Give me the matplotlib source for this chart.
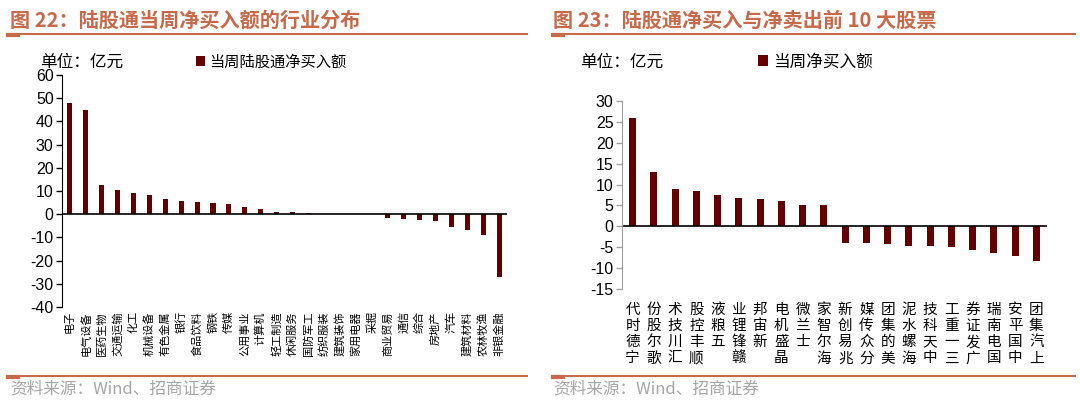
import matplotlib
matplotlib.use("Agg")
import matplotlib.pyplot as plt
from matplotlib.lines import Line2D

plt.rcParams['font.family'] = ['Noto Sans CJK SC', 'DejaVu Sans']

# 图22 数据：陆股通当周净买入额（亿元）
hangye = ['电子', '电气设备', '医药生物', '交通运输', '化工', '机械设备', '有色金属',
          '银行', '食品饮料', '钢铁', '传媒', '公用事业', '计算机', '轻工制造',
          '休闲服务', '国防军工', '纺织服装', '建筑装饰', '家用电器', '采掘',
          '商业贸易', '通信', '综合', '房地产', '汽车', '建筑材料', '农林牧渔', '非银金融']
hangye_jine = [48.1, 44.8, 12.5, 10.6, 9.3, 8.2, 6.5, 5.9, 5.3, 4.9, 4.2, 2.9, 2.4, 1.1,
               1.0, 0.5, 0.3, 0.1, 0.05, -0.05, -1.7, -2.2, -2.5, -2.8, -5.4, -6.8, -9.1, -27.0]

# 图23 数据：前10大净买入与净卖出股票
gupiao = ['宁德时代', '歌尔股份', '汇川技术', '顺丰控股', '五粮液', '赣锋锂业', '新宙邦',
          '晶盛机电', '士兰微', '海尔智家', '兆易创新', '分众传媒', '美的集团', '海螺水泥',
          '中天科技', '三一重工', '广发证券', '国电南瑞', '中国平安', '上汽集团']
gupiao_jine = [26.0, 13.0, 8.9, 8.5, 7.5, 6.7, 6.45, 6.05, 5.1, 5.0,
               -4.0, -4.05, -4.2, -4.6, -4.7, -5.0, -5.7, -6.3, -7.0, -8.4]

bar_color = '#640000'
title_color = '#C8694A'
W, H = 1080, 407

fig = plt.figure(figsize=(10.8, 4.07), dpi=100)

def px(x0, y0, x1, y1):
    # 像素坐标 -> figure 坐标 [left, bottom, width, height]
    return [x0 / W, 1 - y1 / H, (x1 - x0) / W, (y1 - y0) / H]

def hline(x0, x1, y, lw=1.5):
    fig.add_artist(Line2D([x0 / W, x1 / W], [1 - y / H, 1 - y / H],
                          transform=fig.transFigure, color=title_color, lw=lw))

# 标题和分隔线
fig.text(10 / W, 1 - 20 / H, '图 22：陆股通当周净买入额的行业分布', fontsize=14.5,
         fontweight='bold', color=title_color, va='center', ha='left')
fig.text(553 / W, 1 - 20 / H, '图 23：陆股通净买入与净卖出前 10 大股票', fontsize=14.5,
         fontweight='bold', color=title_color, va='center', ha='left')
for x0, x1 in [(8, 527), (553, 1075)]:
    hline(x0, x1, 34, lw=1.5)
    hline(x0, x0 + 10, 35, lw=3)
    hline(x0, x1, 376, lw=1.5)
    hline(x0, x0 + 10, 377, lw=3)
fig.text(10 / W, 1 - 389 / H, '资料来源：Wind、招商证券', fontsize=12,
         color='#A6A6A6', va='center', ha='left')
fig.text(553 / W, 1 - 389 / H, '资料来源：Wind、招商证券', fontsize=12,
         color='#A6A6A6', va='center', ha='left')

# 左图
ax1 = fig.add_axes(px(62, 75, 507, 307))
ax1.bar(range(len(hangye)), hangye_jine, width=0.32, color=bar_color, label='当周陆股通净买入额')
ax1.set_xlim(-0.5, len(hangye) - 0.5)
ax1.set_ylim(-40, 60)
ax1.set_yticks(range(-40, 61, 10))
ax1.set_yticklabels([str(v) for v in range(-40, 61, 10)], family=['Liberation Sans'], fontsize=11.5)
ax1.set_xticks(range(len(hangye)))
ax1.set_xticklabels(hangye, rotation=90, fontsize=8)
ax1.tick_params(axis='x', length=0, pad=3)
ax1.tick_params(axis='y', length=4, width=1, direction='out', pad=2)
ax1.axhline(0, color='black', lw=1.2)
for s in ['top', 'right', 'bottom']:
    ax1.spines[s].set_visible(False)
ax1.spines['left'].set_color('black')
ax1.legend(loc='center left', bbox_to_anchor=(0.3, 1.056), frameon=False, fontsize=11,
           handlelength=0.6, handleheight=0.6, handletextpad=0.3, borderpad=0, borderaxespad=0)
fig.text(40 / W, 1 - 62 / H, '单位：亿元', fontsize=12, va='center', ha='left')

# 右图
ax2 = fig.add_axes(px(622, 101, 1047, 289))
ax2.bar(range(len(gupiao)), gupiao_jine, width=0.33, color=bar_color, label='当周净买入额')
ax2.set_xlim(-0.5, len(gupiao) - 0.5)
ax2.set_ylim(-15, 30)
ax2.set_yticks(range(-15, 31, 5))
ax2.set_yticklabels([str(v) for v in range(-15, 31, 5)], family=['Liberation Sans'], fontsize=11.5)
ax2.set_xticks(range(len(gupiao)))
ax2.set_xticklabels(['\n'.join(reversed(g)) for g in gupiao], fontsize=10.5, linespacing=1.2)
ax2.tick_params(axis='x', length=0, pad=10)
ax2.tick_params(axis='y', length=4, width=1, direction='out', pad=2, color='#A0A0A0')
ax2.axhline(0, color='black', lw=1.2)
for s in ['top', 'right', 'bottom']:
    ax2.spines[s].set_visible(False)
ax2.spines['left'].set_color('#A0A0A0')
ax2.legend(loc='center left', bbox_to_anchor=(0.32, 1.207), frameon=False, fontsize=12,
           handlelength=0.6, handleheight=0.6, handletextpad=0.3, borderpad=0, borderaxespad=0)
fig.text(580 / W, 1 - 62 / H, '单位：亿元', fontsize=12, va='center', ha='left')

fig.savefig('out.png', dpi=100)
